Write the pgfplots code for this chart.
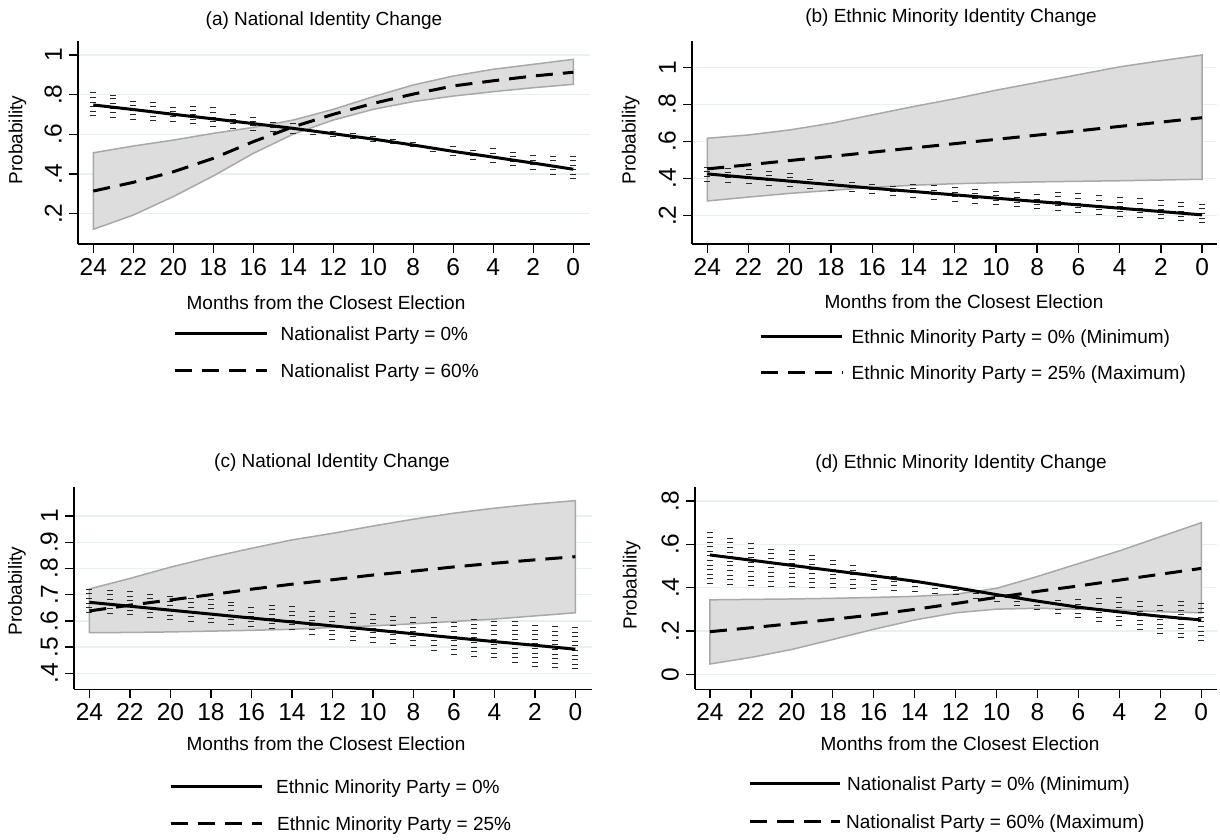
\documentclass[border=0pt]{standalone}
\usepackage{pgfplots}
\pgfplotsset{compat=1.18}
\usepackage{pgfplotstable}
\usepackage{fontspec}
\setmainfont{Liberation Sans}
\newcommand\tickf{\fontsize{24.5}{24.5}\selectfont}
\newcommand\labf{\fontsize{19}{19}\selectfont}
\definecolor{gridc}{RGB}{232,241,241}
\definecolor{bandf}{RGB}{221,221,221}
\definecolor{bandd}{RGB}{168,168,168}

% m = months from closest election; s = solid line; d = dashed line; blo/bhi = band for dashed line
\pgfplotstableread{
m s d blo bhi
24 .748 .314 .121 .507
22 .725 .358 .193 .541
20 .701 .411 .286 .571
18 .678 .479 .390 .605
16 .654 .563 .504 .635
14 .630 .638 .601 .672
12 .603 .701 .672 .726
10 .576 .756 .726 .790
8 .546 .803 .765 .849
6 .514 .844 .793 .894
4 .485 .870 .815 .928
2 .455 .894 .835 .953
0 .424 .913 .852 .978
}\ta
\pgfplotstableread{
m lo hi
24 .690 .815
23 .683 .800
22 .672 .787
21 .666 .772
20 .664 .756
19 .650 .745
18 .638 .736
17 .628 .712
16 .618 .689
15 .610 .672
14 .604 .656
13 .596 .640
12 .588 .625
11 .578 .608
10 .562 .590
9 .550 .578
8 .535 .565
7 .510 .555
6 .490 .545
5 .470 .537
4 .455 .530
3 .438 .520
2 .420 .510
1 .395 .500
0 .373 .491
}\ca
\pgfplotstableread{
m s d blo bhi
24 .425 .452 .279 .617
22 .405 .474 .300 .635
20 .386 .497 .320 .662
18 .367 .519 .336 .698
16 .348 .542 .352 .743
14 .330 .565 .364 .788
12 .312 .588 .372 .830
10 .294 .611 .377 .876
8 .276 .634 .382 .918
6 .258 .657 .385 .960
4 .240 .681 .388 1.002
2 .222 .704 .392 1.035
0 .204 .728 .396 1.066
}\tb
\pgfplotstableread{
m lo hi
24 .383 .465
23 .378 .458
22 .370 .450
21 .362 .440
20 .355 .430
19 .345 .418
18 .335 .405
17 .325 .395
16 .315 .385
15 .305 .378
14 .295 .370
13 .285 .363
12 .275 .356
11 .265 .348
10 .255 .340
9 .245 .335
8 .235 .330
7 .225 .325
6 .215 .320
5 .205 .312
4 .195 .305
3 .188 .298
2 .180 .290
1 .170 .285
0 .159 .279
}\cb
\pgfplotstableread{
m s d blo bhi
24 .671 .638 .555 .722
22 .656 .660 .556 .762
20 .641 .680 .558 .805
18 .626 .700 .561 .843
16 .611 .721 .564 .877
14 .596 .740 .568 .909
12 .581 .757 .575 .934
10 .566 .775 .581 .962
8 .551 .790 .589 .988
6 .536 .806 .598 1.011
4 .521 .820 .607 1.030
2 .507 .833 .619 1.046
0 .492 .845 .631 1.059
}\tc
\pgfplotstableread{
m lo hi
24 .631 .722
23 .627 .718
22 .622 .714
21 .612 .704
20 .603 .695
19 .597 .688
18 .591 .682
17 .585 .673
16 .578 .664
15 .571 .660
14 .565 .655
13 .546 .648
12 .527 .642
11 .522 .637
10 .517 .633
9 .510 .628
8 .504 .623
7 .487 .616
6 .470 .610
5 .463 .606
4 .457 .603
3 .440 .599
2 .423 .595
1 .419 .590
0 .415 .584
}\cc
\pgfplotstableread{
m s d blo bhi
24 .551 .197 .048 .344
22 .527 .215 .078 .346
20 .503 .234 .115 .348
18 .479 .254 .161 .351
16 .455 .275 .208 .355
14 .430 .300 .251 .360
12 .400 .327 .284 .370
10 .368 .355 .301 .397
8 .338 .383 .305 .452
6 .310 .408 .301 .511
4 .288 .435 .297 .570
2 .268 .462 .289 .635
0 .251 .489 .284 .700
}\td
\pgfplotstableread{
m lo hi
24 .417 .655
23 .413 .636
22 .409 .617
21 .405 .596
20 .401 .574
19 .399 .555
18 .397 .535
17 .393 .515
16 .389 .494
15 .385 .466
14 .380 .435
13 .372 .410
12 .365 .400
11 .350 .388
10 .335 .375
9 .315 .366
8 .296 .358
7 .277 .360
6 .258 .363
5 .240 .360
4 .223 .358
3 .205 .343
2 .186 .328
1 .166 .343
0 .155 .328
}\cd

\tikzset{
  solidl/.style={line width=3pt, black},
  dashl/.style={line width=3pt, black, dash pattern=on 17pt off 10pt},
}
\pgfplotsset{
  stata/.style={
    scale only axis, anchor=north west,
    axis lines*=left, tick align=outside, major tick length=9pt,
    axis line style={line width=1.4pt, black},
    major tick style={line width=1.4pt, black},
    ymajorgrids, grid style={line width=1.4pt, gridc},
    xtick={-24,-22,-20,-18,-16,-14,-12,-10,-8,-6,-4,-2,0},
    xticklabels={24,22,20,18,16,14,12,10,8,6,4,2,0},
    xticklabel style={font=\tickf, inner sep=0pt, anchor=north},
    yticklabel style={font=\tickf, inner sep=0pt, rotate=90, anchor=south},
    xticklabel shift=5pt, yticklabel shift=7pt,
  },
  bandl/.style={fill=bandf, draw=bandd, line width=1.5pt},
  cil/.style={black!85, line width=6pt, dash pattern=on 1pt off 3.6pt, -, mark=none, forget plot,
    quiver={u=0, v=\thisrow{hi}-\thisrow{lo}}},
}

\begin{document}
\begin{tikzpicture}
\path[use as bounding box] (0pt,-839pt) rectangle (1220pt,0pt);

% ---------------- (a)
\begin{axis}[stata, at={(78pt,-40.7pt)}, width=512pt, height=203.3pt,
  xmin=-24.765, xmax=0.835, ymin=0.047, ymax=1.072,
  ytick={0.2,0.4,0.6,0.8,1}, yticklabels={.2,.4,.6,.8,1}]
\addplot[draw=none, stack plots=y, forget plot] table[x expr=-\thisrow{m}, y=blo]{\ta};
\addplot[bandl, stack plots=y] table[x expr=-\thisrow{m}, y expr=\thisrow{bhi}-\thisrow{blo}]{\ta} \closedcycle;
\addplot[cil] table[x expr=-\thisrow{m}, y=lo]{\ca};
\addplot[solidl] table[x expr=-\thisrow{m}, y=s]{\ta};
\addplot[dashl] table[x expr=-\thisrow{m}, y=d]{\ta};
\end{axis}

% ---------------- (b)
\begin{axis}[stata, at={(692pt,-40.7pt)}, width=524.7pt, height=203.3pt,
  xmin=-24.74, xmax=0.71, ymin=0.047, ymax=1.143,
  ytick={0.2,0.4,0.6,0.8,1}, yticklabels={.2,.4,.6,.8,1}]
\addplot[draw=none, stack plots=y, forget plot] table[x expr=-\thisrow{m}, y=blo]{\tb};
\addplot[bandl, stack plots=y] table[x expr=-\thisrow{m}, y expr=\thisrow{bhi}-\thisrow{blo}]{\tb} \closedcycle;
\addplot[cil] table[x expr=-\thisrow{m}, y=lo]{\cb};
\addplot[solidl] table[x expr=-\thisrow{m}, y=s]{\tb};
\addplot[dashl] table[x expr=-\thisrow{m}, y=d]{\tb};
\end{axis}

% ---------------- (c)
\begin{axis}[stata, at={(74pt,-486.7pt)}, width=518pt, height=202.6pt,
  xmin=-24.76, xmax=0.82, ymin=0.339, ymax=1.112,
  ytick={0.4,0.5,0.6,0.7,0.8,0.9,1}, yticklabels={.4,.5,.6,.7,.8,.9,1}]
\addplot[draw=none, stack plots=y, forget plot] table[x expr=-\thisrow{m}, y=blo]{\tc};
\addplot[bandl, stack plots=y] table[x expr=-\thisrow{m}, y expr=\thisrow{bhi}-\thisrow{blo}]{\tc} \closedcycle;
\addplot[cil] table[x expr=-\thisrow{m}, y=lo]{\cc};
\addplot[solidl] table[x expr=-\thisrow{m}, y=s]{\tc};
\addplot[dashl] table[x expr=-\thisrow{m}, y=d]{\tc};
\end{axis}

% ---------------- (d)
\begin{axis}[stata, at={(695pt,-486.7pt)}, width=521.6pt, height=202.6pt,
  xmin=-24.73, xmax=0.75, ymin=-0.069, ymax=0.866,
  ytick={0,0.2,0.4,0.6,0.8}, yticklabels={0,.2,.4,.6,.8}]
\addplot[draw=none, stack plots=y, forget plot] table[x expr=-\thisrow{m}, y=blo]{\td};
\addplot[bandl, stack plots=y] table[x expr=-\thisrow{m}, y expr=\thisrow{bhi}-\thisrow{blo}]{\td} \closedcycle;
\addplot[cil] table[x expr=-\thisrow{m}, y=lo]{\cd};
\addplot[solidl] table[x expr=-\thisrow{m}, y=s]{\td};
\addplot[dashl] table[x expr=-\thisrow{m}, y=d]{\td};
\end{axis}

% titles
\node[anchor=base, font=\labf] at (324pt,-25pt) {(a) National Identity Change};
\node[anchor=base, font=\labf] at (951pt,-22pt) {(b) Ethnic Minority Identity Change};
\node[anchor=base, font=\labf] at (332pt,-467pt) {(c) National Identity Change};
\node[anchor=base, font=\labf] at (961pt,-468.5pt) {(d) Ethnic Minority Identity Change};
% x labels
\node[anchor=base, font=\labf] at (326pt,-309.5pt) {Months from the Closest Election};
\node[anchor=base, font=\labf] at (964pt,-308pt) {Months from the Closest Election};
\node[anchor=base, font=\labf] at (326pt,-750pt) {Months from the Closest Election};
\node[anchor=base, font=\labf] at (960pt,-750pt) {Months from the Closest Election};
% y labels
\node[rotate=90, font=\labf] at (17.5pt,-140pt) {Probability};
\node[rotate=90, font=\labf] at (630.7pt,-140pt) {Probability};
\node[rotate=90, font=\labf] at (17pt,-591pt) {Probability};
\node[rotate=90, font=\labf] at (631.6pt,-585pt) {Probability};
% legends
\draw[solidl] (175pt,-333.5pt) -- (266.5pt,-333.5pt);
\node[anchor=base west, font=\labf, inner sep=0pt] at (280.5pt,-340.5pt) {Nationalist Party = 0\%};
\draw[dashl] (175pt,-370pt) -- (266.5pt,-370pt);
\node[anchor=base west, font=\labf, inner sep=0pt] at (280.5pt,-377pt) {Nationalist Party = 60\%};
\draw[solidl] (760.5pt,-336pt) -- (842pt,-336pt);
\node[anchor=base west, font=\labf, inner sep=0pt] at (851.5pt,-343pt) {Ethnic Minority Party = 0\% (Minimum)};
\draw[dashl] (760.5pt,-372.5pt) -- (842pt,-372.5pt);
\node[anchor=base west, font=\labf, inner sep=0pt] at (851.5pt,-379.5pt) {Ethnic Minority Party = 25\% (Maximum)};
\draw[solidl] (170.7pt,-786.5pt) -- (261.7pt,-786.5pt);
\node[anchor=base west, font=\labf, inner sep=0pt] at (276pt,-793.5pt) {Ethnic Minority Party = 0\%};
\draw[dashl] (170.7pt,-823pt) -- (261.7pt,-823pt);
\node[anchor=base west, font=\labf, inner sep=0pt] at (277pt,-830pt) {Ethnic Minority Party = 25\%};
\draw[solidl] (750pt,-783.5pt) -- (840pt,-783.5pt);
\node[anchor=base west, font=\labf, inner sep=0pt] at (847pt,-790.5pt) {Nationalist Party = 0\% (Minimum)};
\draw[dashl] (750pt,-821pt) -- (840pt,-821pt);
\node[anchor=base west, font=\labf, inner sep=0pt] at (846pt,-828pt) {Nationalist Party = 60\% (Maximum)};
\end{tikzpicture}
\end{document}
